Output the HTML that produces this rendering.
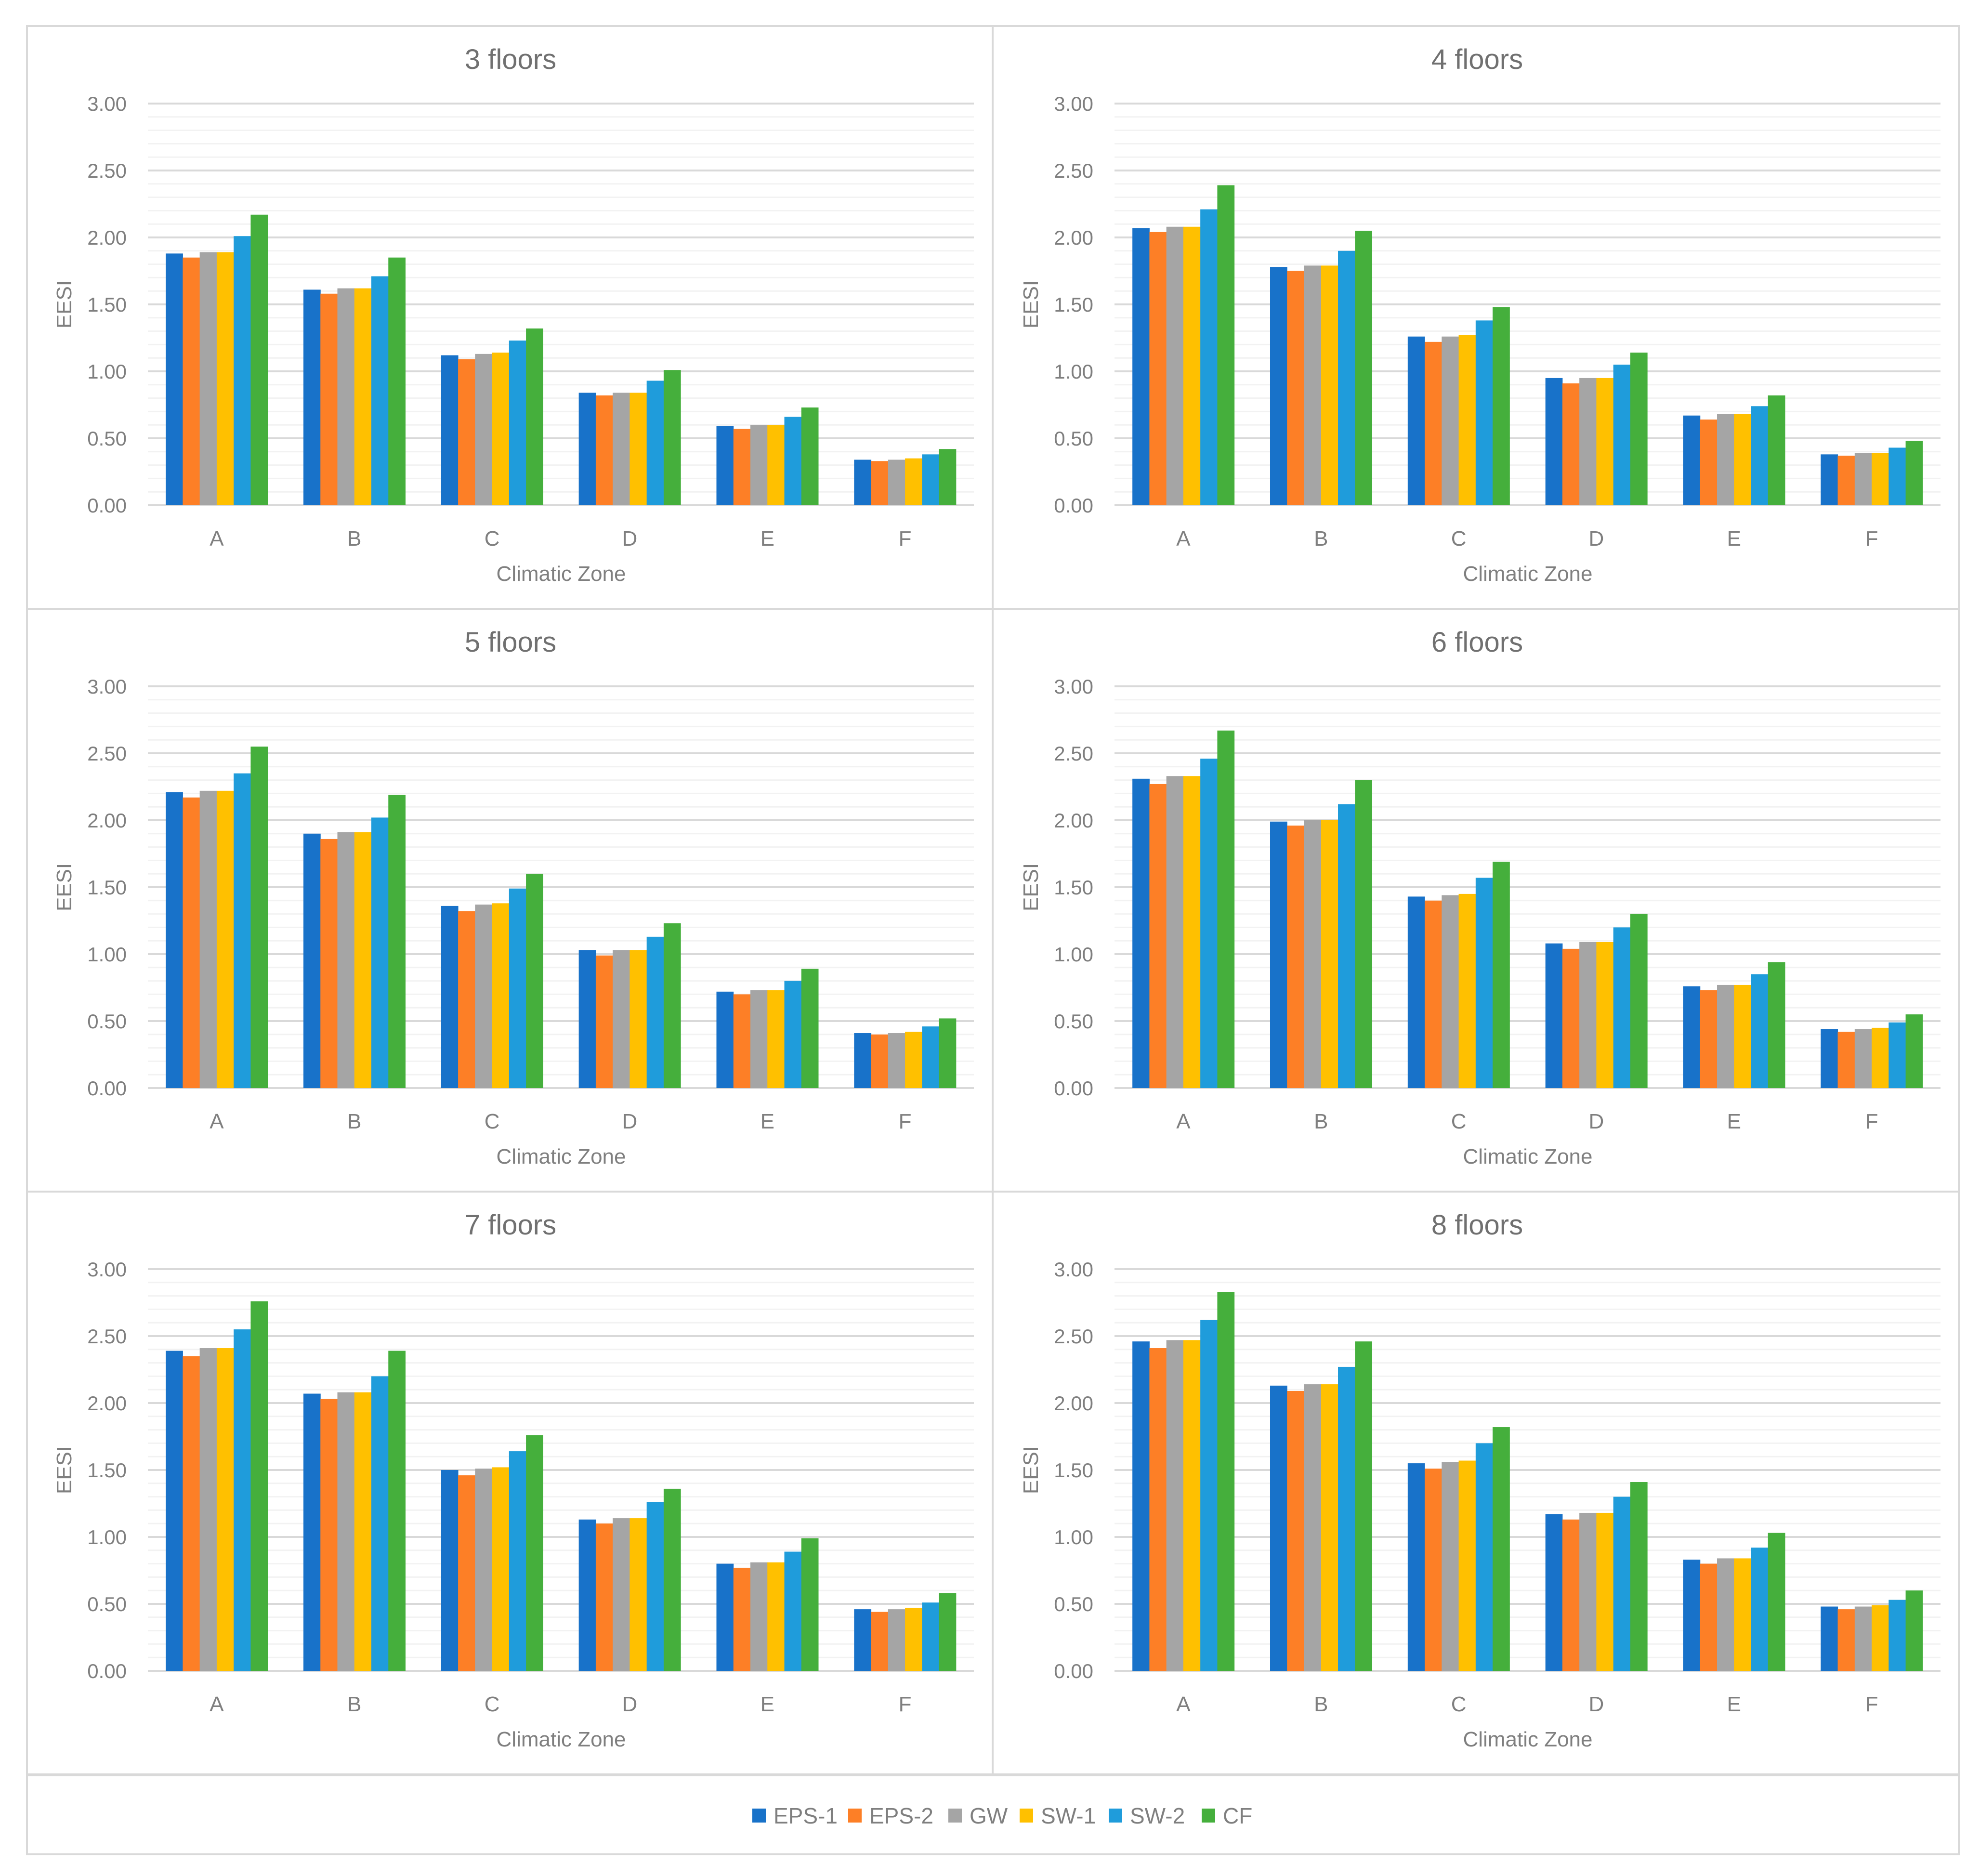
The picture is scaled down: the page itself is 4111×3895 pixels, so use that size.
<!DOCTYPE html>
<html><head><meta charset="utf-8"><style>
html,body{margin:0;padding:0;background:#fff;}
svg{display:block;font-family:"Liberation Sans",sans-serif;}
</style></head><body>
<svg id="c" width="4111" height="3895" viewBox="0 0 4111 3895" xmlns="http://www.w3.org/2000/svg"></svg>
<script>
const categories = ["A","B","C","D","E","F"];
const seriesNames = ["EPS-1","EPS-2","GW","SW-1","SW-2","CF"];
const seriesColors = ["#1872c9","#fd7f26","#a5a5a5","#ffc000","#1f9cdb","#45af3c"];
const yTicks = ["0.00","0.50","1.00","1.50","2.00","2.50","3.00"];
const panelTitles = ["3 floors","4 floors","5 floors","6 floors","7 floors","8 floors"];
// values[panel][category][series]
const floors3 = [[1.88,1.85,1.89,1.89,2.01,2.17],[1.61,1.58,1.62,1.62,1.71,1.85],[1.12,1.09,1.13,1.14,1.23,1.32],[0.84,0.82,0.84,0.84,0.93,1.01],[0.59,0.57,0.60,0.60,0.66,0.73],[0.34,0.33,0.34,0.35,0.38,0.42]];
const floors4 = [[2.07,2.04,2.08,2.08,2.21,2.39],[1.78,1.75,1.79,1.79,1.90,2.05],[1.26,1.22,1.26,1.27,1.38,1.48],[0.95,0.91,0.95,0.95,1.05,1.14],[0.67,0.64,0.68,0.68,0.74,0.82],[0.38,0.37,0.39,0.39,0.43,0.48]];
const floors5 = [[2.21,2.17,2.22,2.22,2.35,2.55],[1.90,1.86,1.91,1.91,2.02,2.19],[1.36,1.32,1.37,1.38,1.49,1.60],[1.03,0.99,1.03,1.03,1.13,1.23],[0.72,0.70,0.73,0.73,0.80,0.89],[0.41,0.40,0.41,0.42,0.46,0.52]];
const floors6 = [[2.31,2.27,2.33,2.33,2.46,2.67],[1.99,1.96,2.00,2.00,2.12,2.30],[1.43,1.40,1.44,1.45,1.57,1.69],[1.08,1.04,1.09,1.09,1.20,1.30],[0.76,0.73,0.77,0.77,0.85,0.94],[0.44,0.42,0.44,0.45,0.49,0.55]];
const floors7 = [[2.39,2.35,2.41,2.41,2.55,2.76],[2.07,2.03,2.08,2.08,2.20,2.39],[1.50,1.46,1.51,1.52,1.64,1.76],[1.13,1.10,1.14,1.14,1.26,1.36],[0.80,0.77,0.81,0.81,0.89,0.99],[0.46,0.44,0.46,0.47,0.51,0.58]];
const floors8 = [[2.46,2.41,2.47,2.47,2.62,2.83],[2.13,2.09,2.14,2.14,2.27,2.46],[1.55,1.51,1.56,1.57,1.70,1.82],[1.17,1.13,1.18,1.18,1.30,1.41],[0.83,0.80,0.84,0.84,0.92,1.03],[0.48,0.46,0.48,0.49,0.53,0.60]];
const panelData = [floors3,floors4,floors5,floors6,floors7,floors8];

const NS="http://www.w3.org/2000/svg";
const svg=document.getElementById('c');
function mk(tag,attrs,parent){const e=document.createElementNS(NS,tag);for(const k in attrs)e.setAttribute(k,attrs[k]);(parent||svg).appendChild(e);return e;}

// frame
let fr=mk('rect',{x:56,y:54,width:4011,height:3796,fill:'#fff',stroke:'#d9d9d9','stroke-width':4});



const yMax=3;
panelData.forEach((data,p)=>{
  const col=p%2,row=Math.floor(p/2);
  const ox=col*2007, oy=row*1210;
  const g=mk('g',{});
  
  
  const bx=col===0?56:2061, bw=col===0?2005:2006;
  let b=mk('rect',{x:bx,y:54+oy,width:bw,height:1210,fill:'none',stroke:'#d9d9d9','stroke-width':4},g);
  
  
  const L=307+ox,R=2022+ox,T=215+oy,B=1049+oy;
  const yS=v=>B-(v/yMax)*(B-T);
  // minor grid
  for(let i=1;i<30;i++){ if(i%5===0)continue;
    let l=mk('line',{x1:L,x2:R,y1:yS(i/10),y2:yS(i/10),stroke:'#f2f2f2','stroke-width':3},g);
    
    
  }
  yTicks.forEach(t=>{
    const v=parseFloat(t);
    let l=mk('line',{x1:L,x2:R,y1:yS(v),y2:yS(v),stroke:'#d9d9d9','stroke-width':4},g);
    
    
    let tx=mk('text',{x:L-44,y:yS(v)+15,'text-anchor':'end','font-size':42,fill:'#7f7f7f'},g);
    tx.textContent=t;
    
    
  });
  const cw=(R-L)/categories.length, bwid=cw*0.74/seriesNames.length;
  categories.forEach((c,ci)=>{
    const x0=L+ci*cw+cw*0.13;
    seriesNames.forEach((s,si)=>{
      const v=data[ci][si];
      let r=mk('rect',{x:x0+si*bwid,y:yS(v),width:bwid+0.5,height:B-yS(v),fill:seriesColors[si]},g);
      
      
    });
    let t=mk('text',{x:L+ci*cw+cw/2,y:1133+oy,'text-anchor':'middle','font-size':44,fill:'#7f7f7f'},g);
    t.textContent=c;
    
    
  });
  let tt=mk('text',{x:1060+ox,y:143+oy,'text-anchor':'middle','font-size':58,fill:'#707070'},g);
  tt.textContent=panelTitles[p];
  
  
  let xt=mk('text',{x:1165+ox,y:1206+oy,'text-anchor':'middle','font-size':44,fill:'#7f7f7f'},g);
  xt.textContent='Climatic Zone';
  
  
  let yt=mk('text',{x:0,y:0,'text-anchor':'middle','font-size':44,fill:'#7f7f7f',transform:`translate(${148+ox},${632+oy}) rotate(-90)`},g);
  yt.textContent='EESI';
  
  
});

// legend
let lb=mk('rect',{x:56,y:3686,width:4011,height:164,fill:'none',stroke:'#d9d9d9','stroke-width':4});


const legX=[1562,1761,1969,2117,2302,2495];
seriesNames.forEach((s,i)=>{
  const g=mk('g',{});
  
  
  mk('rect',{x:legX[i],y:3755,width:28,height:29,fill:seriesColors[i]},g);
  let t=mk('text',{x:legX[i]+44,y:3786,'font-size':46,fill:'#7f7f7f'},g);
  t.textContent=s;
});
</script>
</body></html>
